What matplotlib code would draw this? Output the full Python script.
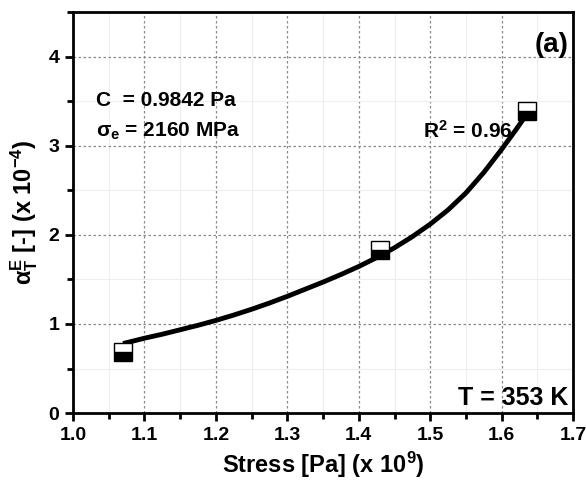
import matplotlib
matplotlib.use("Agg")
import matplotlib.pyplot as plt
from matplotlib.ticker import MultipleLocator

plt.rcParams['font.family'] = ['Liberation Sans', 'DejaVu Sans']
plt.rcParams['font.weight'] = 'bold'
plt.rcParams['mathtext.fontset'] = 'custom'
plt.rcParams['mathtext.rm'] = 'Liberation Sans:bold'
plt.rcParams['mathtext.it'] = 'Liberation Sans:bold'
plt.rcParams['mathtext.bf'] = 'Liberation Sans:bold'
plt.rcParams['mathtext.default'] = 'rm'

# measured points (stress x 1e9 Pa, alpha x 1e-4)
stress = [1.07, 1.43, 1.635]
alpha = [0.69, 1.83, 3.39]

# fitted curve
fit_stress = [1.07, 1.10, 1.125, 1.15, 1.175, 1.20, 1.225, 1.25, 1.275, 1.30, 1.325, 1.35,
              1.375, 1.40, 1.425, 1.45, 1.475, 1.50, 1.525, 1.55, 1.575, 1.60, 1.62, 1.64]
fit_alpha = [0.78, 0.84, 0.885, 0.935, 0.985, 1.04, 1.10, 1.165, 1.235, 1.31, 1.39, 1.47,
             1.555, 1.645, 1.745, 1.855, 1.98, 2.12, 2.28, 2.47, 2.70, 2.96, 3.18, 3.41]

fig = plt.figure(figsize=(5.86, 4.82), dpi=100)
ax = fig.add_axes([0.1246, 0.143, 0.8534, 0.832])

ax.grid(True, which='major', linestyle=(0, (2, 2)), color='#888888', linewidth=0.9)
ax.grid(True, which='minor', linestyle='-', color='#eeeeee', linewidth=0.8)
ax.set_axisbelow(True)

ax.plot(fit_stress, fit_alpha, color='black', linewidth=3.5, solid_capstyle='butt',
        solid_joinstyle='round', zorder=3)
ax.plot(stress, alpha, linestyle='none', marker='s', markersize=13, fillstyle='bottom',
        markerfacecolor='black', markerfacecoloralt='white', markeredgecolor='black',
        markeredgewidth=1.0, zorder=4)

ax.set_xlim(1.0, 1.7)
ax.set_ylim(0, 4.5)
ax.xaxis.set_major_locator(MultipleLocator(0.1))
ax.xaxis.set_minor_locator(MultipleLocator(0.05))
ax.yaxis.set_major_locator(MultipleLocator(1))
ax.yaxis.set_minor_locator(MultipleLocator(0.5))

for s in ax.spines.values():
    s.set_linewidth(2)
ax.tick_params(which='major', direction='out', length=6, width=2, labelsize=14, pad=4)
ax.tick_params(which='minor', direction='out', length=4, width=2)
ax.tick_params(top=False, right=False, which='both')
for lab in ax.get_xticklabels() + ax.get_yticklabels():
    lab.set_fontweight('bold')

ax.set_xlabel(r'Stress [Pa] (x 10$^{9}$)', fontsize=17, fontweight='bold', labelpad=4)
ax.set_ylabel(r'$\alpha_T^E$ [-] (x 10$^{-4}$)', fontsize=17, fontweight='bold', labelpad=6)

ax.text(0.99, 0.918, '(a)', transform=ax.transAxes, ha='right', va='center',
        fontsize=20, fontweight='bold')
ax.text(0.045, 0.78, 'C  = 0.9842 Pa', transform=ax.transAxes, ha='left', va='center',
        fontsize=15, fontweight='bold')
ax.text(0.045, 0.703, r'$\sigma_e$ = 2160 MPa', transform=ax.transAxes, ha='left', va='center',
        fontsize=15, fontweight='bold')
ax.text(0.70, 0.703, r'R$^2$ = 0.96', transform=ax.transAxes, ha='left', va='center',
        fontsize=15, fontweight='bold')
ax.text(0.99, 0.037, 'T = 353 K', transform=ax.transAxes, ha='right', va='center',
        fontsize=18, fontweight='bold')

fig.savefig('out.png', dpi=100)
